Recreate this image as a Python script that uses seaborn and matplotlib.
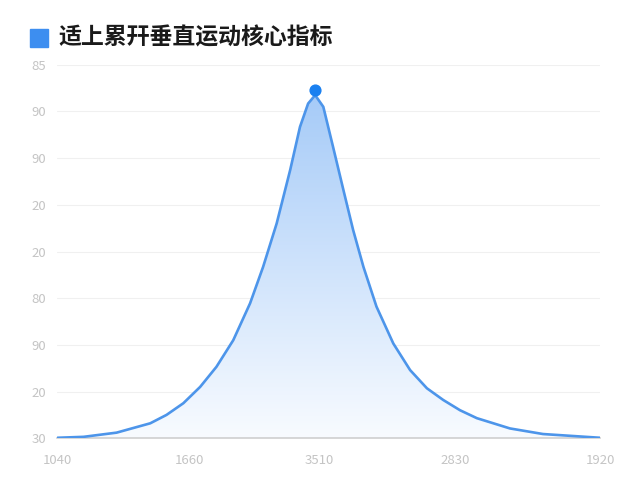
import numpy as np
import pandas as pd
import matplotlib
matplotlib.use("Agg")
import matplotlib.pyplot as plt
from matplotlib.patches import Rectangle
import seaborn as sns

# data (x in 0-100 plot units, y on the 0-80 grid)
x_pos = [0, 4.8, 10.9, 17.1, 20.1, 23.2, 26.3, 29.3, 32.4, 35.5, 37.9,
         40.4, 42.9, 44.7, 46.2, 47.5, 49.0, 50.8, 52.7, 54.5, 56.4, 58.8,
         61.9, 65.0, 68.1, 71.1, 74.2, 77.3, 83.4, 89.5, 100]
y_val = [0.1, 0.3, 1.2, 3.2, 5.0, 7.5, 11.0, 15.3, 21.0, 28.9, 36.7,
         46.0, 57.5, 66.7, 71.7, 73.5, 71.0, 62.4, 53.2, 44.6, 36.7, 28.2,
         20.3, 14.6, 10.7, 8.2, 6.0, 4.3, 2.1, 0.9, 0.1]
peak_x = 47.5
peak_y = 74.6

x_ticks = [0, 24.4, 48.2, 73.3, 100]
x_labels = ["1040", "1660", "3510", "2830", "1920"]
y_ticks = [0, 10, 20, 30, 40, 50, 60, 70, 80]
y_labels = ["30", "20", "90", "80", "20", "20", "90", "90", "85"]
title = "适上累幵垂直运动核心指标"

df = pd.DataFrame({"x": x_pos, "y": y_val})

sns.set_theme(style="white")
plt.rcParams["font.family"] = ["Noto Sans CJK SC", "DejaVu Sans"]

fig = plt.figure(figsize=(6.4, 4.8), dpi=100)
ax = fig.add_axes([0.0898, 0.087, 0.8477, 0.778])

# gradient fill under the curve
grad = np.linspace(0, 1, 256).reshape(-1, 1)
cmap = matplotlib.colors.LinearSegmentedColormap.from_list(
    "fade", ["#f8fbff", "#a6cbf8"])
img = ax.imshow(grad, extent=[0, 100, 0, max(y_val)], origin="lower",
                aspect="auto", cmap=cmap, zorder=1)
poly = ax.fill_between(df["x"], df["y"], 0, color="none")
img.set_clip_path(poly.get_paths()[0], transform=ax.transData)

sns.lineplot(data=df, x="x", y="y", ax=ax, color="#4d95ea", linewidth=1.9,
             zorder=3, solid_joinstyle="round")
ax.scatter([peak_x], [peak_y], s=60, color="#1a80f0", zorder=4)

ax.set_xlim(0, 100)
ax.set_ylim(0, 80)
ax.set_xticks(x_ticks)
ax.set_xticklabels(x_labels)
ax.set_yticks(y_ticks)
ax.set_yticklabels(y_labels)
ax.set_xlabel("")
ax.set_ylabel("")
ax.tick_params(axis="both", colors="#c4c4c4", labelsize=9.5, length=0)
ax.tick_params(axis="x", pad=8, length=3, color="#dddddd")
ax.tick_params(axis="y", pad=8)
ax.grid(axis="y", color="#f0f0f0", linewidth=0.8)
ax.set_axisbelow(True)
for s in ["left", "right", "top"]:
    ax.spines[s].set_visible(False)
ax.spines["bottom"].set_color("#cfcfcf")
ax.spines["bottom"].set_linewidth(1.2)

# title with the blue square
fig.patches.append(Rectangle((30 / 640, 1 - 47 / 480), 18 / 640, 18 / 480,
                             transform=fig.transFigure, color="#3d8ef0"))
fig.text(58 / 640, 1 - 38 / 480, title, fontsize=16.5, fontweight="bold",
         color="#1a1a1a", va="center", ha="left")

fig.savefig("out.png", dpi=100)
